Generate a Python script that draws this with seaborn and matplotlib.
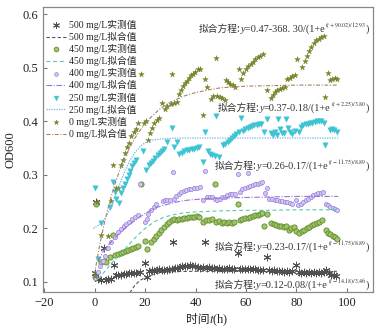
import matplotlib
matplotlib.use("Agg")
import matplotlib.pyplot as plt
from matplotlib.transforms import IdentityTransform
import seaborn as sns
import pandas as pd

# ---------------- data ----------------
t0 = [0, 0.8, 2.6, 5.4, 6.6, 7.3, 8.5, 9.3, 10.5, 11.3,
      12.1, 13.0, 13.8, 14.6, 15.6, 16.4, 17.3, 18.4, 19.6, 20.5,
      21.0, 21.9, 22.6, 23.6, 24.6, 25.5, 26.7, 28.1, 28.8, 30.1,
      30.8, 31.6, 32.7, 33.4, 34.2, 35.0, 35.8, 36.5, 37.3, 38.1,
      39.0, 39.9, 41.0, 41.9, 43.0, 43.9, 44.7, 46.3, 47.0, 48.0,
      48.6, 49.6, 50.6, 51.6, 52.2, 53.0, 53.8, 54.9, 55.8, 57.1,
      57.9, 58.8, 59.9, 60.8, 61.9, 62.8, 63.7, 64.8, 65.7, 66.6,
      68.4, 69.8, 70.7, 71.5, 72.4, 73.3, 74.4, 75.3, 76.4, 77.4,
      78.3, 79.3, 80.1, 82.2, 83.2, 84.2, 85.0, 85.9, 86.8, 87.8,
      88.8, 89.8, 90.9, 91.3, 92.5, 93.1, 94.1, 95.1, 96.1]
v0 = [0.112, 0.250, 0.188, 0.186, 0.251, 0.318, 0.275, 0.275, 0.318, 0.328,
      0.342, 0.352, 0.360, 0.372, 0.380, 0.386, 0.397, 0.488, 0.398, 0.400,
      0.366, 0.378, 0.387, 0.397, 0.403, 0.407, 0.435, 0.423, 0.429, 0.433,
      0.488, 0.435, 0.436, 0.451, 0.459, 0.466, 0.472, 0.476, 0.481, 0.486,
      0.489, 0.493, 0.498, 0.499, 0.412, 0.479, 0.465, 0.442, 0.448, 0.518,
      0.448, 0.446, 0.443, 0.441, 0.478, 0.473, 0.470, 0.468, 0.465, 0.498,
      0.479, 0.490, 0.498, 0.504, 0.507, 0.512, 0.516, 0.520, 0.523, 0.526,
      0.459, 0.443, 0.450, 0.455, 0.458, 0.461, 0.463, 0.465, 0.479, 0.482,
      0.485, 0.487, 0.516, 0.501, 0.513, 0.523, 0.532, 0.540, 0.547, 0.552,
      0.555, 0.558, 0.560, 0.446, 0.490, 0.478, 0.480, 0.481, 0.479]

t250 = [0.3, 1.4, 2.5, 6.0, 7.3, 8.0, 8.6, 9.6, 10.6, 11.3,
        12.2, 12.8, 13.5, 14.2, 15.0, 15.8, 16.6, 19.3, 20.5, 21.5,
        22.4, 23.2, 24.1, 25.0, 25.9, 26.8, 27.7, 28.6, 30.5, 31.4,
        32.6, 33.5, 34.5, 35.5, 36.5, 37.5, 38.5, 39.5, 40.5, 41.5,
        42.8, 43.8, 44.8, 45.7, 46.7, 47.6, 48.0, 49.4, 51.0, 51.8,
        52.7, 53.5, 54.4, 55.3, 56.2, 57.2, 58.1, 58.8, 59.7, 60.6,
        61.5, 62.4, 63.3, 64.2, 65.1, 66.1, 67.0, 68.4, 69.9, 70.7,
        71.6, 72.4, 72.6, 73.3, 74.2, 75.1, 75.8, 76.5, 77.4, 78.3,
        79.3, 80.8, 81.8, 82.7, 83.6, 84.5, 85.4, 86.3, 87.2, 88.1,
        89.0, 89.9, 90.7, 91.2, 93.1, 94.0, 95.0, 96.0]
v250 = [0.276, 0.143, 0.210, 0.241, 0.286, 0.268, 0.256, 0.247, 0.266, 0.275,
        0.284, 0.292, 0.300, 0.308, 0.316, 0.322, 0.328, 0.345, 0.309, 0.318,
        0.322, 0.327, 0.332, 0.337, 0.341, 0.345, 0.348, 0.362, 0.388, 0.352,
        0.362, 0.340, 0.342, 0.344, 0.346, 0.347, 0.348, 0.349, 0.350, 0.352,
        0.325, 0.381, 0.345, 0.340, 0.338, 0.336, 0.410, 0.334, 0.356, 0.358,
        0.362, 0.366, 0.370, 0.373, 0.377, 0.380, 0.406, 0.383, 0.386, 0.388,
        0.390, 0.392, 0.393, 0.394, 0.395, 0.396, 0.380, 0.404, 0.378, 0.375,
        0.381, 0.375, 0.404, 0.386, 0.378, 0.378, 0.404, 0.387, 0.381, 0.376,
        0.382, 0.380, 0.390, 0.393, 0.395, 0.396, 0.397, 0.398, 0.399, 0.400,
        0.400, 0.401, 0.398, 0.356, 0.384, 0.386, 0.385, 0.380]

t400 = [0, 1.4, 2.3, 3.2, 4.0, 5.3, 6.6, 8.0, 9.3, 10.4,
        11.5, 12.6, 13.7, 14.8, 16.0, 17.2, 17.9, 19.9, 20.6, 21.3,
        22.3, 23.4, 24.3, 27.0, 27.9, 28.9, 29.8, 31.0, 31.4, 32.4,
        33.4, 34.4, 35.4, 36.4, 37.4, 38.4, 39.5, 40.5, 41.6, 43.1,
        43.8, 44.6, 45.6, 46.6, 47.6, 48.6, 49.6, 50.6, 51.6, 52.6,
        53.6, 54.6, 55.5, 57.0, 57.6, 58.6, 59.6, 60.6, 60.8, 61.6,
        62.6, 63.6, 64.6, 65.6, 66.4, 67.5, 68.4, 69.3, 70.3, 71.3,
        72.3, 73.3, 74.3, 75.3, 76.3, 77.3, 78.3, 79.9, 80.6, 81.6,
        82.6, 83.6, 84.6, 85.6, 86.6, 87.6, 88.6, 89.6, 90.6, 91.8,
        92.6, 93.4, 94.4, 95.2, 96.0]
v400 = [0.107, 0.119, 0.130, 0.140, 0.148, 0.163, 0.175, 0.185, 0.194, 0.199,
        0.204, 0.209, 0.213, 0.217, 0.221, 0.225, 0.284, 0.213, 0.218, 0.227,
        0.235, 0.241, 0.245, 0.252, 0.253, 0.254, 0.253, 0.306, 0.256, 0.260,
        0.265, 0.268, 0.270, 0.272, 0.273, 0.274, 0.275, 0.276, 0.277, 0.253,
        0.308, 0.258, 0.259, 0.258, 0.256, 0.254, 0.256, 0.258, 0.259, 0.262,
        0.264, 0.265, 0.265, 0.302, 0.268, 0.273, 0.276, 0.278, 0.303, 0.280,
        0.282, 0.283, 0.284, 0.285, 0.286, 0.266, 0.275, 0.256, 0.255, 0.254,
        0.253, 0.252, 0.251, 0.250, 0.249, 0.248, 0.246, 0.253, 0.243, 0.246,
        0.250, 0.253, 0.256, 0.259, 0.262, 0.264, 0.266, 0.267, 0.268, 0.245,
        0.243, 0.241, 0.239, 0.237, 0.235]

t450 = [0, 0.7, 2.7, 3.8, 4.7, 6.0, 7.3, 8.0, 9.3, 10.3,
        11.3, 12.3, 13.3, 14.3, 15.3, 16.3, 17.2, 18.5, 19.9, 20.9,
        22.5, 23.5, 24.5, 25.5, 26.5, 27.6, 28.6, 29.6, 30.6, 31.6,
        32.6, 33.6, 34.6, 35.6, 36.6, 37.6, 38.6, 39.6, 40.6, 41.4,
        43.1, 44.3, 45.3, 46.4, 47.7, 48.3, 49.3, 50.3, 51.3, 52.3,
        53.3, 54.3, 55.3, 57.0, 57.6, 58.6, 59.6, 60.6, 61.6, 62.6,
        63.6, 64.6, 65.6, 66.4, 67.1, 68.4, 69.9, 70.9, 71.9, 72.9,
        73.9, 74.9, 75.9, 76.9, 77.9, 78.9, 80.0, 81.0, 82.0, 83.0,
        84.0, 85.0, 86.0, 87.0, 88.0, 89.0, 90.0, 91.6, 92.5, 93.4,
        94.3, 95.2, 96.0]
v450 = [0.110, 0.245, 0.138, 0.140, 0.138, 0.146, 0.187, 0.150, 0.152, 0.154,
        0.156, 0.158, 0.160, 0.162, 0.164, 0.165, 0.167, 0.284, 0.177, 0.162,
        0.175, 0.180, 0.186, 0.192, 0.198, 0.203, 0.208, 0.212, 0.215, 0.218,
        0.216, 0.217, 0.218, 0.219, 0.220, 0.221, 0.222, 0.222, 0.223, 0.222,
        0.213, 0.215, 0.216, 0.217, 0.283, 0.212, 0.214, 0.210, 0.212, 0.211,
        0.212, 0.211, 0.212, 0.246, 0.216, 0.217, 0.219, 0.220, 0.222, 0.224,
        0.225, 0.226, 0.228, 0.229, 0.205, 0.228, 0.210, 0.208, 0.206, 0.205,
        0.204, 0.203, 0.204, 0.197, 0.200, 0.202, 0.195, 0.192, 0.195, 0.198,
        0.201, 0.203, 0.206, 0.209, 0.211, 0.213, 0.215, 0.197, 0.192, 0.190,
        0.186, 0.184, 0.180]

t500 = [0, 0.7, 1.5, 2.5, 3.8, 4.5, 5.5, 6.5, 7.7, 8.6,
        9.5, 10.5, 11.5, 12.5, 13.5, 14.5, 15.5, 16.5, 17.9, 19.9,
        20.9, 21.7, 22.7, 23.7, 24.7, 25.7, 26.7, 27.7, 28.7, 29.7,
        30.5, 31.1, 31.8, 32.8, 33.8, 34.8, 35.8, 36.8, 37.8, 38.8,
        39.8, 40.8, 41.8, 42.8, 43.6, 44.4, 45.4, 46.4, 47.4, 48.4,
        49.4, 50.4, 51.4, 52.4, 53.4, 54.4, 55.4, 56.8, 57.6, 58.6,
        59.6, 60.6, 61.6, 62.6, 63.6, 64.6, 65.6, 66.6, 68.3, 69.2,
        70.2, 71.2, 72.2, 73.2, 74.2, 75.2, 76.2, 77.2, 78.2, 79.9,
        80.8, 81.8, 82.8, 83.8, 84.8, 85.8, 86.8, 87.8, 88.8, 89.8,
        90.8, 91.8, 92.8, 93.8, 94.8, 95.8]
v500 = [0.116, 0.250, 0.105, 0.104, 0.163, 0.104, 0.105, 0.106, 0.132, 0.113,
        0.114, 0.114, 0.115, 0.115, 0.116, 0.116, 0.117, 0.117, 0.118, 0.135,
        0.109, 0.120, 0.122, 0.121, 0.123, 0.124, 0.122, 0.123, 0.122, 0.124,
        0.125, 0.174, 0.126, 0.127, 0.128, 0.129, 0.129, 0.130, 0.131, 0.130,
        0.129, 0.128, 0.127, 0.128, 0.175, 0.127, 0.128, 0.127, 0.126, 0.125,
        0.126, 0.125, 0.124, 0.125, 0.126, 0.125, 0.124, 0.155, 0.125, 0.124,
        0.125, 0.124, 0.124, 0.125, 0.124, 0.123, 0.123, 0.122, 0.146, 0.122,
        0.121, 0.122, 0.120, 0.121, 0.120, 0.119, 0.120, 0.119, 0.120, 0.132,
        0.118, 0.117, 0.118, 0.117, 0.118, 0.117, 0.118, 0.117, 0.118, 0.117,
        0.118, 0.123, 0.116, 0.114, 0.113, 0.112]

# fitted curves
ft0 = [0, 2, 4, 6, 8, 10, 12, 14, 16, 18, 20, 23, 26, 30, 35, 40, 45, 50, 60, 70, 80, 96.5]
fv0 = [0.115, 0.168, 0.212, 0.250, 0.282, 0.309, 0.332, 0.352, 0.369, 0.383, 0.396, 0.411,
       0.424, 0.436, 0.447, 0.454, 0.459, 0.463, 0.466, 0.467, 0.468, 0.468]
ft250 = [-0.5, 2, 4, 6, 8, 10, 12, 14, 16, 18, 20, 22, 24, 28, 32, 40, 60, 80, 96.5]
fv250 = [0.200, 0.207, 0.218, 0.235, 0.258, 0.283, 0.307, 0.327, 0.342, 0.353, 0.360,
         0.364, 0.366, 0.368, 0.369, 0.369, 0.369, 0.369, 0.369]
ft400 = [1.4, 3.4, 6, 8, 10.6, 14, 17.2, 20, 23.8, 27, 30.4, 34, 37, 42, 50, 60, 70, 80, 90, 96.5]
fv400 = [0.138, 0.157, 0.172, 0.182, 0.194, 0.208, 0.219, 0.228, 0.238, 0.243, 0.247,
         0.251, 0.253, 0.255, 0.257, 0.258, 0.259, 0.260, 0.260, 0.260]
ft450 = [1.5, 3.4, 6, 8, 10.6, 14, 17.2, 20, 23.8, 27, 30.4, 35, 40, 50, 60, 70, 80, 90, 96.5]
fv450 = [0.106, 0.116, 0.131, 0.142, 0.154, 0.172, 0.188, 0.200, 0.213, 0.220, 0.225,
         0.229, 0.231, 0.233, 0.234, 0.234, 0.235, 0.235, 0.235]
ft500 = [14, 16, 18, 20, 22, 25, 28, 32, 40, 50, 60, 70, 80, 90, 96.5]
fv500 = [0.080, 0.094, 0.103, 0.108, 0.112, 0.1166, 0.1185, 0.1195, 0.120, 0.120,
         0.120, 0.120, 0.120, 0.120, 0.120]

labels_meas = ["500 mg/L实测值", "450 mg/L实测值", "400 mg/L实测值", "250 mg/L实测值", "0 mg/L实测值"]
labels_fit = ["500 mg/L拟合值", "450 mg/L拟合值", "400 mg/L拟合值", "250 mg/L拟合值", "0 mg/L拟合值"]
eq_prefix = "拟合方程:"
eq_body = ["=0.47-368. 30/(1+e", "=0.37-0.18/(1+e", "=0.26-0.17/(1+e",
           "=0.23-0.17/(1+e", "=0.12-0.08/(1+e"]
eq_exp = ["$(t+90.02)/12.93$", "$(t+2.25)/3.80$", "$(t-11.75)/8.89$",
          "$(t-11.75)/8.89$", "$(t-14.18)/3.46$"]
xlabel_cjk = "时间"
xlabel_rest = "$t$(h)"
ylabel = "OD600"

# ---------------- style ----------------
sns.set_style("ticks")
plt.rcParams['font.family'] = ['Liberation Serif', 'Noto Sans CJK SC']
plt.rcParams['mathtext.fontset'] = 'stix'
plt.rcParams['axes.unicode_minus'] = False
CJK = ['Noto Sans CJK SC', 'Liberation Serif']

fig = plt.figure(figsize=(3.9, 3.31), dpi=100)
ax = fig.add_axes([43 / 390, 1 - 292 / 331, 330 / 390, 285 / 331])

meas = [
    (t500, v500, dict(marker=(6, 2, 0), s=24, color='#505050', linewidth=0.7)),
    (t450, v450, dict(marker='o', s=14, color='#a3c46c', edgecolor='#5e8c2c', linewidth=0.6)),
    (t400, v400, dict(marker='o', s=9, color='#d2c6f4', edgecolor='#9a82d8', linewidth=0.5)),
    (t250, v250, dict(marker='v', s=15, color='#3ec3d3', edgecolor='#3ec3d3', linewidth=0.3)),
    (t0, v0, dict(marker='*', s=17, color='#74842a', edgecolor='#74842a', linewidth=0.3)),
]
fits = [
    (ft500, fv500, dict(color='#555555', linestyle=(0, (3, 2)), linewidth=0.8)),
    (ft450, fv450, dict(color='#58cba8', linestyle=(0, (3.5, 2.5)), linewidth=0.8)),
    (ft400, fv400, dict(color='#9a6fd6', linestyle=(0, (5, 1.5, 1, 1.5)), linewidth=0.8)),
    (ft250, fv250, dict(color='#6fb6e6', linestyle=(0, (1, 1)), linewidth=0.9)),
    (ft0, fv0, dict(color='#a88262', linestyle=(0, (3.5, 1.5, 1, 1.5)), linewidth=0.8)),
]

for (mt, mv, mk), (ftt, fvv, lk), lm, lf in zip(meas, fits, labels_meas, labels_fit):
    dfm = pd.DataFrame({"t": mt, "v": mv})
    sns.scatterplot(data=dfm, x="t", y="v", ax=ax, label=lm, zorder=3, **mk)
    dff = pd.DataFrame({"t": ftt, "v": fvv})
    sns.lineplot(data=dff, x="t", y="v", ax=ax, label=lf, sort=False,
                 estimator=None, zorder=4, **lk)

h, l = ax.get_legend_handles_labels()
order = []
for lm, lf in zip(labels_meas, labels_fit):
    order.append(l.index(lm))
    order.append(l.index(lf))
ax.legend([h[i] for i in order], [l[i] for i in order], loc='upper left',
          bbox_to_anchor=(0.0, 0.966), frameon=False, fontsize=7.0,
          labelspacing=0.2, handlelength=2.1, handletextpad=0.3,
          borderaxespad=0.1, borderpad=0.2, markerscale=0.9)

ax.set_xlim(-20.4, 110.3)
ax.set_ylim(0.0813, 0.614)
ax.set_xticks([-20, 0, 20, 40, 60, 80, 100])
ax.set_xticklabels(["\u221220", "0", "20", "40", "60", "80", "100"])
ax.set_yticks([0.1, 0.2, 0.3, 0.4, 0.5, 0.6])
ax.set_yticklabels(["0.1", "0.2", "0.3", "0.4", "0.5", "0.6"])
ax.tick_params(direction='in', length=3, width=0.8, colors='#777777',
               labelcolor='#222222', labelsize=9)
for sp in ax.spines.values():
    sp.set_color('#888888')
    sp.set_linewidth(0.9)
    sp.set_visible(True)
ax.set_xlabel("")
ax.set_ylabel(ylabel, fontsize=9, color='#222222', labelpad=4)

renderer = fig.canvas.get_renderer()


def chain(pieces, xd, yd, align):
    """Place text pieces side by side (each with a vertical offset) from display point."""
    txts = [fig.text(0, 0, s, transform=IdentityTransform(), ha='left',
                     va='baseline', **kw) for s, kw, dy in pieces]
    widths = [t.get_window_extent(renderer).width for t in txts]
    total = sum(widths)
    x = xd - total if align == 'right' else xd - total / 2
    for t, w, (s, kw, dy) in zip(txts, widths, pieces):
        t.set_position((x, yd + dy))
        x += w


# equations (baseline positions)
eq_y = [0.568, 0.420, 0.312, 0.160, 0.089]
col = '#333333'
for body, ex, yy in zip(eq_body, eq_exp, eq_y):
    xd, yd = ax.transData.transform((108.8, yy))
    chain([(eq_prefix, dict(fontsize=7.0, color=col, family=CJK), 0),
           ("y", dict(fontsize=7.4, color=col, style='italic', family='Liberation Serif'), 0),
           (body, dict(fontsize=7.4, color=col, family='Liberation Serif'), 0),
           (ex, dict(fontsize=4.2, color=col), 4.8),
           (")", dict(fontsize=7.4, color=col, family='Liberation Serif'), 0)], xd, yd, 'right')

# x label
chain([(xlabel_cjk, dict(fontsize=8.5, color='#222222', family=CJK), 0),
       (xlabel_rest, dict(fontsize=9, color='#222222'), 0)], 207, 331 - 323, 'center')

fig.savefig("out.png", dpi=100)
